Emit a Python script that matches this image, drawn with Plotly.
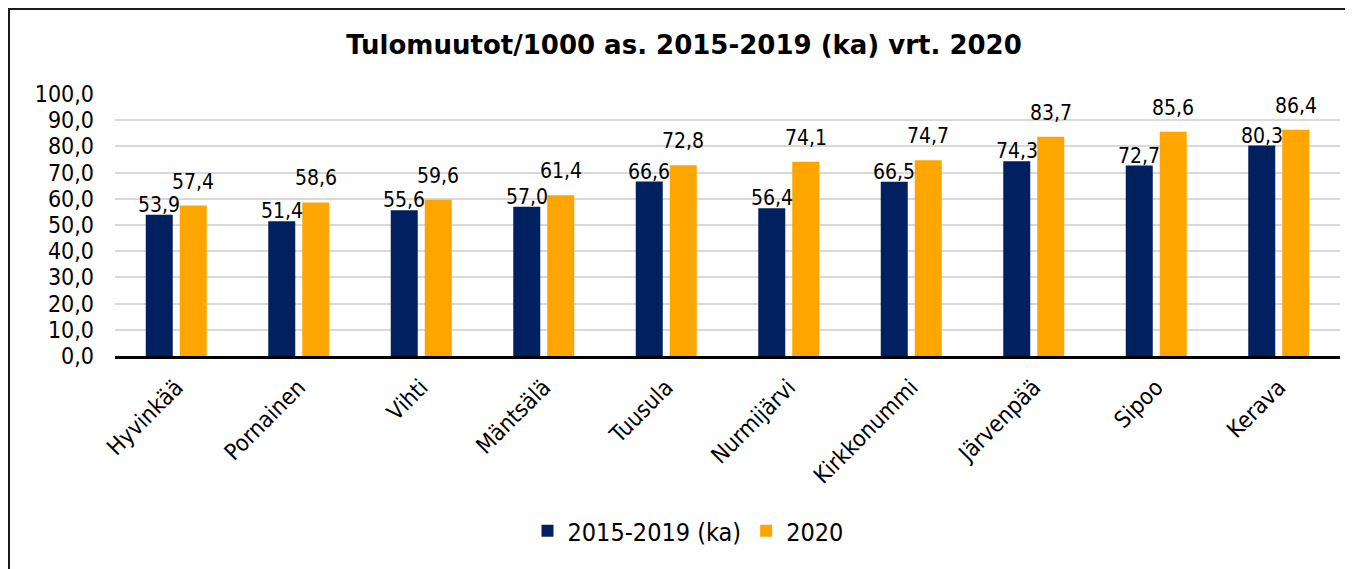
import plotly.graph_objects as go

categories = ["Hyvinkää", "Pornainen", "Vihti", "Mäntsälä", "Tuusula",
              "Nurmijärvi", "Kirkkonummi", "Järvenpää", "Sipoo", "Kerava"]
series_2015_2019 = [53.9, 51.4, 55.6, 57.0, 66.6, 56.4, 66.5, 74.3, 72.7, 80.3]
series_2020 = [57.4, 58.6, 59.6, 61.4, 72.8, 74.1, 74.7, 83.7, 85.6, 86.4]
series_names = ["2015-2019 (ka)", "2020"]
title_text = "Tulomuutot/1000 as. 2015-2019 (ka) vrt. 2020"
y_ticks = [0, 10, 20, 30, 40, 50, 60, 70, 80, 90, 100]

FONT = "DejaVu Sans Condensed, Open Sans, DejaVu Sans, sans-serif"
TFONT = "DejaVu Sans, sans-serif"
W, H = 1345, 561
ML, MR, MT, MB = 107, 13, 86, 213
PW = W - ML - MR
PH = H - MT - MB

colors = ["#002060", "#FFA500"]
# label placement style per series: (horizontal shift px, lift above bar top px)
label_style = [(-17, 10), (17, 24)]

fig = go.Figure()
for name, vals, color in zip(series_names, [series_2015_2019, series_2020], colors):
    fig.add_trace(go.Bar(
        x=categories, y=vals, name=name,
        marker=dict(color=color, line=dict(width=0)),
    ))

annotations = []
for vals, (xs, lift) in zip([series_2015_2019, series_2020], label_style):
    for cat, v in zip(categories, vals):
        annotations.append(dict(
            x=cat, y=v, xref="x", yref="y", xshift=xs, yshift=lift,
            text=f"{v:.1f}".replace(".", ","), showarrow=False,
            xanchor="center", yanchor="middle",
            font=dict(family=FONT, size=21, color="#000000"),
        ))

fig.update_layout(
    width=W, height=H,
    margin=dict(l=ML, r=MR, t=MT, b=MB),
    paper_bgcolor="white", plot_bgcolor="white",
    separators=", ",
    barmode="group", bargap=0.445, bargroupgap=0.206,
    title=dict(text="<b>" + title_text + "</b>", x=676 / W, xanchor="center",
               y=1 - 37 / H, yanchor="middle",
               font=dict(family=TFONT, size=26, color="#000000")),
    font=dict(family=FONT, color="#000000"),
    legend=dict(orientation="h", x=(680 - ML) / PW, xanchor="center",
                y=(H - MB - 523) / PH, yanchor="middle",
                font=dict(family=FONT, size=25, color="#000000"),
                itemwidth=30, traceorder="normal"),
    showlegend=True,
    annotations=annotations,
)
fig.update_yaxes(range=[0, 100], tickvals=y_ticks, tickformat=".1f",
                 showgrid=True, gridcolor="#D9D9D9", gridwidth=2,
                 zeroline=False, showline=False, ticks="", ticklabelstandoff=20,
                 tickfont=dict(family=FONT, size=23, color="#000000"))
fig.update_xaxes(tickangle=-45, showline=True, linecolor="#000000", linewidth=2.5,
                 ticks="", ticklabelstandoff=6,
                 tickfont=dict(family=FONT, size=23, color="#000000"))

fig.add_shape(type="rect", xref="paper", yref="paper",
              x0=(1 - ML) / PW, x1=(W + 10 - ML) / PW,
              y0=(H - MB - (H + 10)) / PH, y1=(H - MB - 1) / PH,
              line=dict(color="#1a1a1a", width=2), fillcolor="rgba(0,0,0,0)", layer="above")

fig.write_html("out.html")
